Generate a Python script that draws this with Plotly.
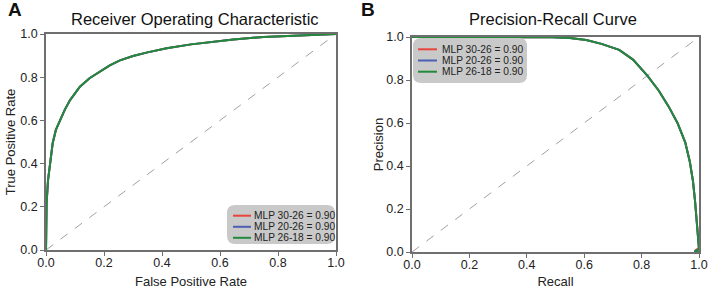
import plotly.graph_objects as go

# ---------------- data ----------------
model_names = ["MLP 30-26", "MLP 20-26", "MLP 26-18"]
roc_auc = [0.90, 0.90, 0.90]
pr_auc = [0.90, 0.90, 0.90]
series_colors = ["#e8453c", "#4b5fb3", "#218a3b"]

fpr = [0, 0.0005, 0.002, 0.007, 0.014, 0.023, 0.034, 0.048, 0.065, 0.083, 0.1,
       0.117, 0.15, 0.186, 0.22, 0.255, 0.3, 0.35, 0.416, 0.5, 0.58, 0.646,
       0.75, 0.876, 0.95, 1.0]
tpr_30_26 = [0, 0.1, 0.216, 0.324, 0.40, 0.494, 0.556, 0.60, 0.65, 0.694, 0.728,
             0.756, 0.795, 0.826, 0.855, 0.878, 0.898, 0.915, 0.934, 0.952, 0.966,
             0.975, 0.986, 0.994, 0.998, 1.0]
tpr_20_26 = [0, 0.1, 0.216, 0.324, 0.40, 0.494, 0.556, 0.60, 0.65, 0.694, 0.728,
             0.756, 0.795, 0.826, 0.855, 0.878, 0.898, 0.915, 0.934, 0.952, 0.966,
             0.975, 0.986, 0.994, 0.998, 1.0]
tpr_26_18 = [0, 0.1, 0.216, 0.324, 0.40, 0.494, 0.556, 0.60, 0.65, 0.694, 0.728,
             0.756, 0.795, 0.826, 0.855, 0.878, 0.898, 0.915, 0.934, 0.952, 0.966,
             0.975, 0.986, 0.994, 0.998, 1.0]

recall = [0, 0.1, 0.2, 0.3, 0.4, 0.45, 0.49, 0.55, 0.607, 0.66, 0.722, 0.77,
          0.82, 0.86, 0.895, 0.925, 0.952, 0.968, 0.979, 0.986, 0.991, 0.995,
          0.998, 1.0, 0.985, 1.0]
precision_30_26 = [1.0, 1.0, 1.0, 1.0, 1.0, 1.0, 0.999, 0.995, 0.986, 0.968, 0.94,
                   0.895, 0.82, 0.75, 0.675, 0.6, 0.51, 0.42, 0.33, 0.24, 0.15,
                   0.08, 0.03, 0.02, 0.004, 0.0]
precision_20_26 = [1.0, 1.0, 1.0, 1.0, 1.0, 1.0, 0.999, 0.995, 0.986, 0.968, 0.94,
                   0.895, 0.82, 0.75, 0.675, 0.6, 0.51, 0.42, 0.33, 0.24, 0.15,
                   0.08, 0.03, 0.012, 0.004, 0.0]
precision_26_18 = [1.0, 1.0, 1.0, 1.0, 1.0, 1.0, 0.999, 0.995, 0.986, 0.968, 0.94,
                   0.895, 0.82, 0.75, 0.675, 0.6, 0.51, 0.42, 0.33, 0.24, 0.15,
                   0.08, 0.03, 0.012, 0.004, 0.0]

chance = [0, 1]

tick_vals = [0, 0.2, 0.4, 0.6, 0.8, 1.0]
tick_text = ["0.0", "0.2", "0.4", "0.6", "0.8", "1.0"]

panel_titles = ["Receiver Operating Characteristic", "Precision-Recall Curve"]
panel_letters = ["A", "B"]
x_titles = ["False Positive Rate", "Recall"]
y_titles = ["True Positive Rate", "Precision"]

# ---------------- figure ----------------
W, H = 708, 289
FONT = "Liberation Sans, Arial, Helvetica, sans-serif"
AXIS_COLOR = "#6f6f6f"
DIAG_COLOR = "#a99ca9"
TEXT_COLOR = "#222222"


def px(x):
    return x / W


def py(y):
    return 1 - y / H


fig = go.Figure()

# chance diagonals
fig.add_trace(go.Scatter(x=chance, y=chance, mode="lines", xaxis="x", yaxis="y",
                         line=dict(color=DIAG_COLOR, width=1, dash="dash"),
                         showlegend=False, hoverinfo="skip"))
fig.add_trace(go.Scatter(x=chance, y=chance, mode="lines", xaxis="x2", yaxis="y2",
                         line=dict(color=DIAG_COLOR, width=1, dash="dash"),
                         showlegend=False, hoverinfo="skip"))

roc_series = [tpr_30_26, tpr_20_26, tpr_26_18]
pr_series = [precision_30_26, precision_20_26, precision_26_18]
for name, color, tpr_vals, auc in zip(model_names, series_colors, roc_series, roc_auc):
    fig.add_trace(go.Scatter(x=fpr, y=tpr_vals, mode="lines", xaxis="x", yaxis="y",
                             name=f"{name} = {auc:.2f}",
                             line=dict(color=color, width=2), showlegend=False))
for name, color, prec_vals, auc in zip(model_names, series_colors, pr_series, pr_auc):
    fig.add_trace(go.Scatter(x=recall, y=prec_vals, mode="lines", xaxis="x2", yaxis="y2",
                             name=f"{name} = {auc:.2f}",
                             line=dict(color=color, width=2), showlegend=False))

axis_common = dict(
    range=[0, 1], tickmode="array", tickvals=tick_vals, ticktext=tick_text,
    showgrid=False, zeroline=False, showline=True, mirror=True,
    linecolor=AXIS_COLOR, linewidth=1.5, ticks="outside", ticklen=4,
    tickwidth=1, tickcolor=AXIS_COLOR,
    tickfont=dict(family=FONT, size=12.5, color=TEXT_COLOR),
    ticklabeloverflow="allow",
    automargin=False, fixedrange=True,
)
title_font = dict(size=13, family=FONT, color=TEXT_COLOR)

fig.update_layout(
    width=W, height=H,
    margin=dict(l=0, r=0, t=0, b=0),
    paper_bgcolor="white", plot_bgcolor="white",
    showlegend=False,
    font=dict(family=FONT, color=TEXT_COLOR),
    xaxis=dict(axis_common, domain=[px(46), px(336)], anchor="y", ticklabelstandoff=-4,
               title=dict(text=x_titles[0], font=title_font, standoff=10)),
    yaxis=dict(axis_common, domain=[py(250), py(34)], anchor="x",
               title=dict(text=y_titles[0], font=title_font, standoff=2)),
    xaxis2=dict(axis_common, domain=[px(412), px(699)], anchor="y2", ticklabelstandoff=-4,
                title=dict(text=x_titles[1], font=title_font, standoff=10)),
    yaxis2=dict(axis_common, domain=[py(252), py(37)], anchor="x2",
                title=dict(text=y_titles[1], font=title_font, standoff=0)),
)

annotations = []
shapes = []

# panel titles and letters
for title, cx in zip(panel_titles, [195, 553]):
    annotations.append(dict(text=title, x=px(cx), y=py(19), xref="paper", yref="paper",
                            xanchor="center", yanchor="middle", showarrow=False,
                            font=dict(family=FONT, size=16.5, color="#111111")))
for letter, lx in zip(panel_letters, [15, 368]):
    annotations.append(dict(text=f"<b>{letter}</b>", x=px(lx), y=py(10), xref="paper",
                            yref="paper", xanchor="center", yanchor="middle", showarrow=False,
                            font=dict(family=FONT, size=19, color="#111111")))


def rounded_rect(x0, y0, x1, y1, r):
    pts = [
        ("M", [(x0 + r, y0)]), ("L", [(x1 - r, y0)]), ("Q", [(x1, y0), (x1, y0 + r)]),
        ("L", [(x1, y1 - r)]), ("Q", [(x1, y1), (x1 - r, y1)]), ("L", [(x0 + r, y1)]),
        ("Q", [(x0, y1), (x0, y1 - r)]), ("L", [(x0, y0 + r)]), ("Q", [(x0, y0), (x0 + r, y0)]),
    ]
    s = ""
    for cmd, coords in pts:
        s += cmd + " " + " ".join(f"{px(a):.5f},{py(b):.5f}" for a, b in coords) + " "
    return s + "Z"


# legends: (box x0, y0, x1, y1, line x0, line x1, text x, row ys, auc list)
legend_specs = [
    (227, 205, 335, 244, 233, 251, 252, [215.7, 226.8, 237.8], roc_auc),
    (413, 38, 527, 83, 418, 437, 440, [49.3, 60.5, 71.7], pr_auc),
]
for bx0, by0, bx1, by1, lx0, lx1, tx, rows, aucs in legend_specs:
    shapes.append(dict(type="path", path=rounded_rect(bx0, by0, bx1, by1, 8),
                       xref="paper", yref="paper", fillcolor="#c9c9c9",
                       line=dict(width=0), layer="above"))
    for name, color, ry, auc in zip(model_names, series_colors, rows, aucs):
        shapes.append(dict(type="line", xref="paper", yref="paper",
                           x0=px(lx0), x1=px(lx1), y0=py(ry), y1=py(ry),
                           line=dict(color=color, width=2), layer="above"))
        annotations.append(dict(text=f"{name} = {auc:.2f}", x=px(tx), y=py(ry),
                                xref="paper", yref="paper", xanchor="left",
                                yanchor="middle", showarrow=False,
                                font=dict(family=FONT, size=10.2, color=TEXT_COLOR)))

fig.update_layout(annotations=annotations, shapes=shapes)

fig.write_html(
    "out.html",
    config={"displayModeBar": False},
    post_script="document.body.style.margin='0';document.body.style.overflow='hidden';",
)
